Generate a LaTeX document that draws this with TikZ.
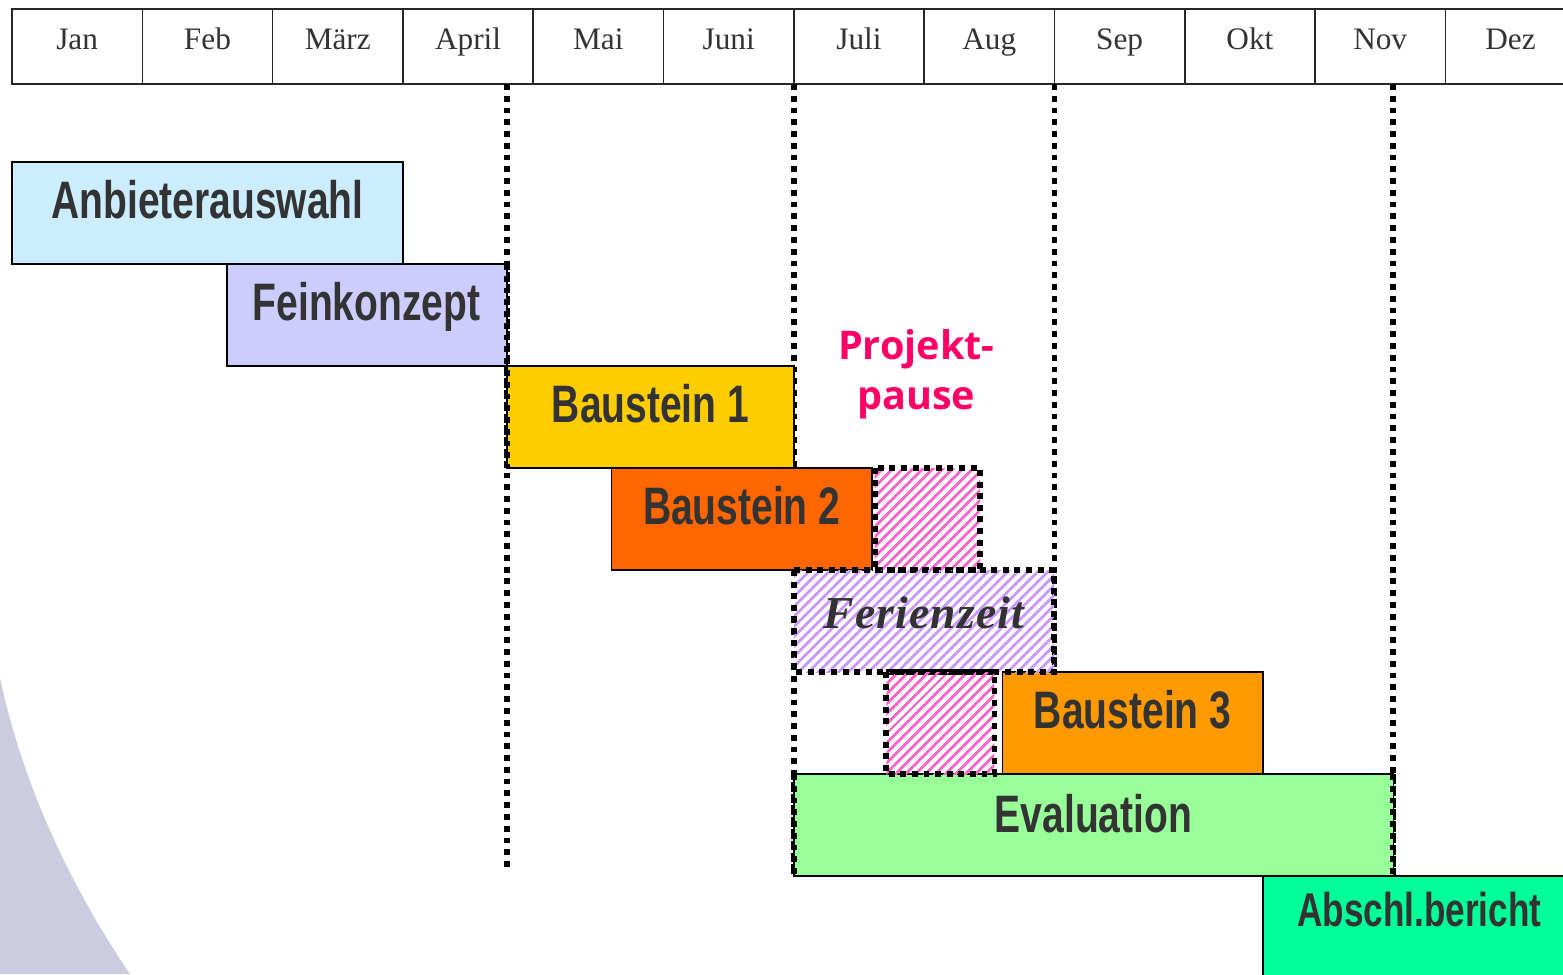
\documentclass[tikz,border=0pt]{standalone}
\usepackage{fontspec}
\setmainfont{Liberation Serif}
\newfontfamily\barfont[FakeStretch=0.74]{Liberation Sans}
\newfontfamily\pausefont{Open Sans}
\newfontfamily\ferienfont[LetterSpace=2.5]{Liberation Serif}
\usetikzlibrary{patterns.meta}

\definecolor{textgray}{RGB}{51,51,51}
\definecolor{anbblue}{RGB}{204,236,255}
\definecolor{feinlila}{RGB}{204,204,255}
\definecolor{baugelb}{RGB}{255,204,0}
\definecolor{baurot}{RGB}{255,102,0}
\definecolor{bauorange}{RGB}{255,153,0}
\definecolor{evalgruen}{RGB}{153,255,153}
\definecolor{abschgruen}{RGB}{0,255,153}
\definecolor{pausepink}{RGB}{255,0,102}
\definecolor{hatchpink}{RGB}{255,102,204}
\definecolor{hatchlila}{RGB}{204,153,255}
\definecolor{bogen}{RGB}{204,204,224}

\begin{document}
\begin{tikzpicture}[x=2.606cm, y=2.04cm,
    bar/.style={draw=black, line width=0.8pt},
    barlabel/.style={text=textgray, anchor=base, inner sep=0pt,
        font=\barfont\bfseries\fontsize{30}{30}\selectfont},
    monthcell/.style={draw=black!85, line width=0.9pt},
    monthlabel/.style={text=textgray, anchor=base, inner sep=0pt,
        font=\fontsize{17.8}{18}\selectfont},
    hatchbox/.style={draw=black, line width=3.4pt, dash pattern=on 3.4pt off 3.2pt,
        pattern={Lines[angle=45,distance=4pt,line width=1.6pt]}},
    marker/.style={draw=black, line width=3.3pt, dash pattern=on 3.3pt off 3.4pt}]
        \useasboundingbox (-0.092,1.588) rectangle (11.903,-7.961);

        % background arc
        \fill[bogen] (-0.092,-5.06) .. controls (0.1,-6.2) and (0.5,-7.2) .. (0.906,-7.961)
            -- (-0.092,-7.961) -- cycle;

        % month header
        \foreach \m [count=\i from 0] in {Jan,Feb,März,April,Mai,Juni,Juli,Aug,Sep,Okt,Nov,Dez}{
            \draw[monthcell] (\i,1.5) rectangle (\i+1,0.765);
            \node[monthlabel] (month\i) at (\i+0.5,1.098) {\m};
        }

        % milestones
        \draw[marker] (3.8,0.765) -- (3.8,-6.94);
        \draw[marker] (6,0.765) -- (6,-3);
        \draw[marker] (6,-4) -- (6,-7);
        \draw[marker] (8,0.765) -- (8,-5);
        \draw[marker] (10.6,0.765) -- (10.6,-7);

        % phases
        \filldraw[bar, fill=anbblue] (0,0) rectangle (3,-1);
        \node[barlabel] (anbieter) at (1.5,-0.55) {Anbieterauswahl};
        \filldraw[bar, fill=feinlila] (1.65,-1) rectangle (3.8,-2);
        \node[barlabel] (fein) at (2.72,-1.55) {Feinkonzept};
        \filldraw[bar, fill=baugelb] (3.8,-2) rectangle (6,-3);
        \node[barlabel] (bau1) at (4.9,-2.55) {Baustein 1};
        \filldraw[bar, fill=baurot] (4.6,-3) rectangle (6.6,-4);
        \node[barlabel] (bau2) at (5.6,-3.55) {Baustein 2};
        \filldraw[bar, fill=bauorange] (7.6,-5) rectangle (9.6,-6);
        \node[barlabel] (bau3) at (8.6,-5.55) {Baustein 3};
        \filldraw[bar, fill=evalgruen] (6,-6) rectangle (10.6,-7);
        \node[barlabel] (eval) at (8.3,-6.57) {Evaluation};
        \filldraw[bar, fill=abschgruen] (9.6,-7) rectangle (12.2,-8.2);
        \node[barlabel, font=\barfont\bfseries\fontsize{27}{27}\selectfont] (absch) at (10.8,-7.49) {Abschl.bericht};

        % milestone edges over the bars
        \draw[marker] (3.8,-1) -- (3.8,-3);
        \draw[marker] (6,-6) -- (6,-7);
        \draw[marker] (10.6,-6) -- (10.6,-7);

        % pauses
        \draw[hatchbox, pattern color=hatchpink] (6.62,-3) rectangle (7.43,-4);
        \draw[hatchbox, pattern color=hatchlila] (6,-4) rectangle (8,-5);
        \node[text=textgray, anchor=base, inner sep=0pt, font=\ferienfont\bfseries\itshape\fontsize{26}{26}\selectfont]
            (ferien) at (7.0,-4.57) {Ferienzeit};
        \draw[hatchbox, pattern color=hatchpink] (6.71,-5) rectangle (7.54,-6);
        \node[text=pausepink, align=center, inner sep=0pt, font=\pausefont\bfseries\fontsize{22.5}{28.5}\selectfont]
            (pause) at (6.94,-2.08) {Projekt-\\pause};
    \end{tikzpicture}
\end{document}
